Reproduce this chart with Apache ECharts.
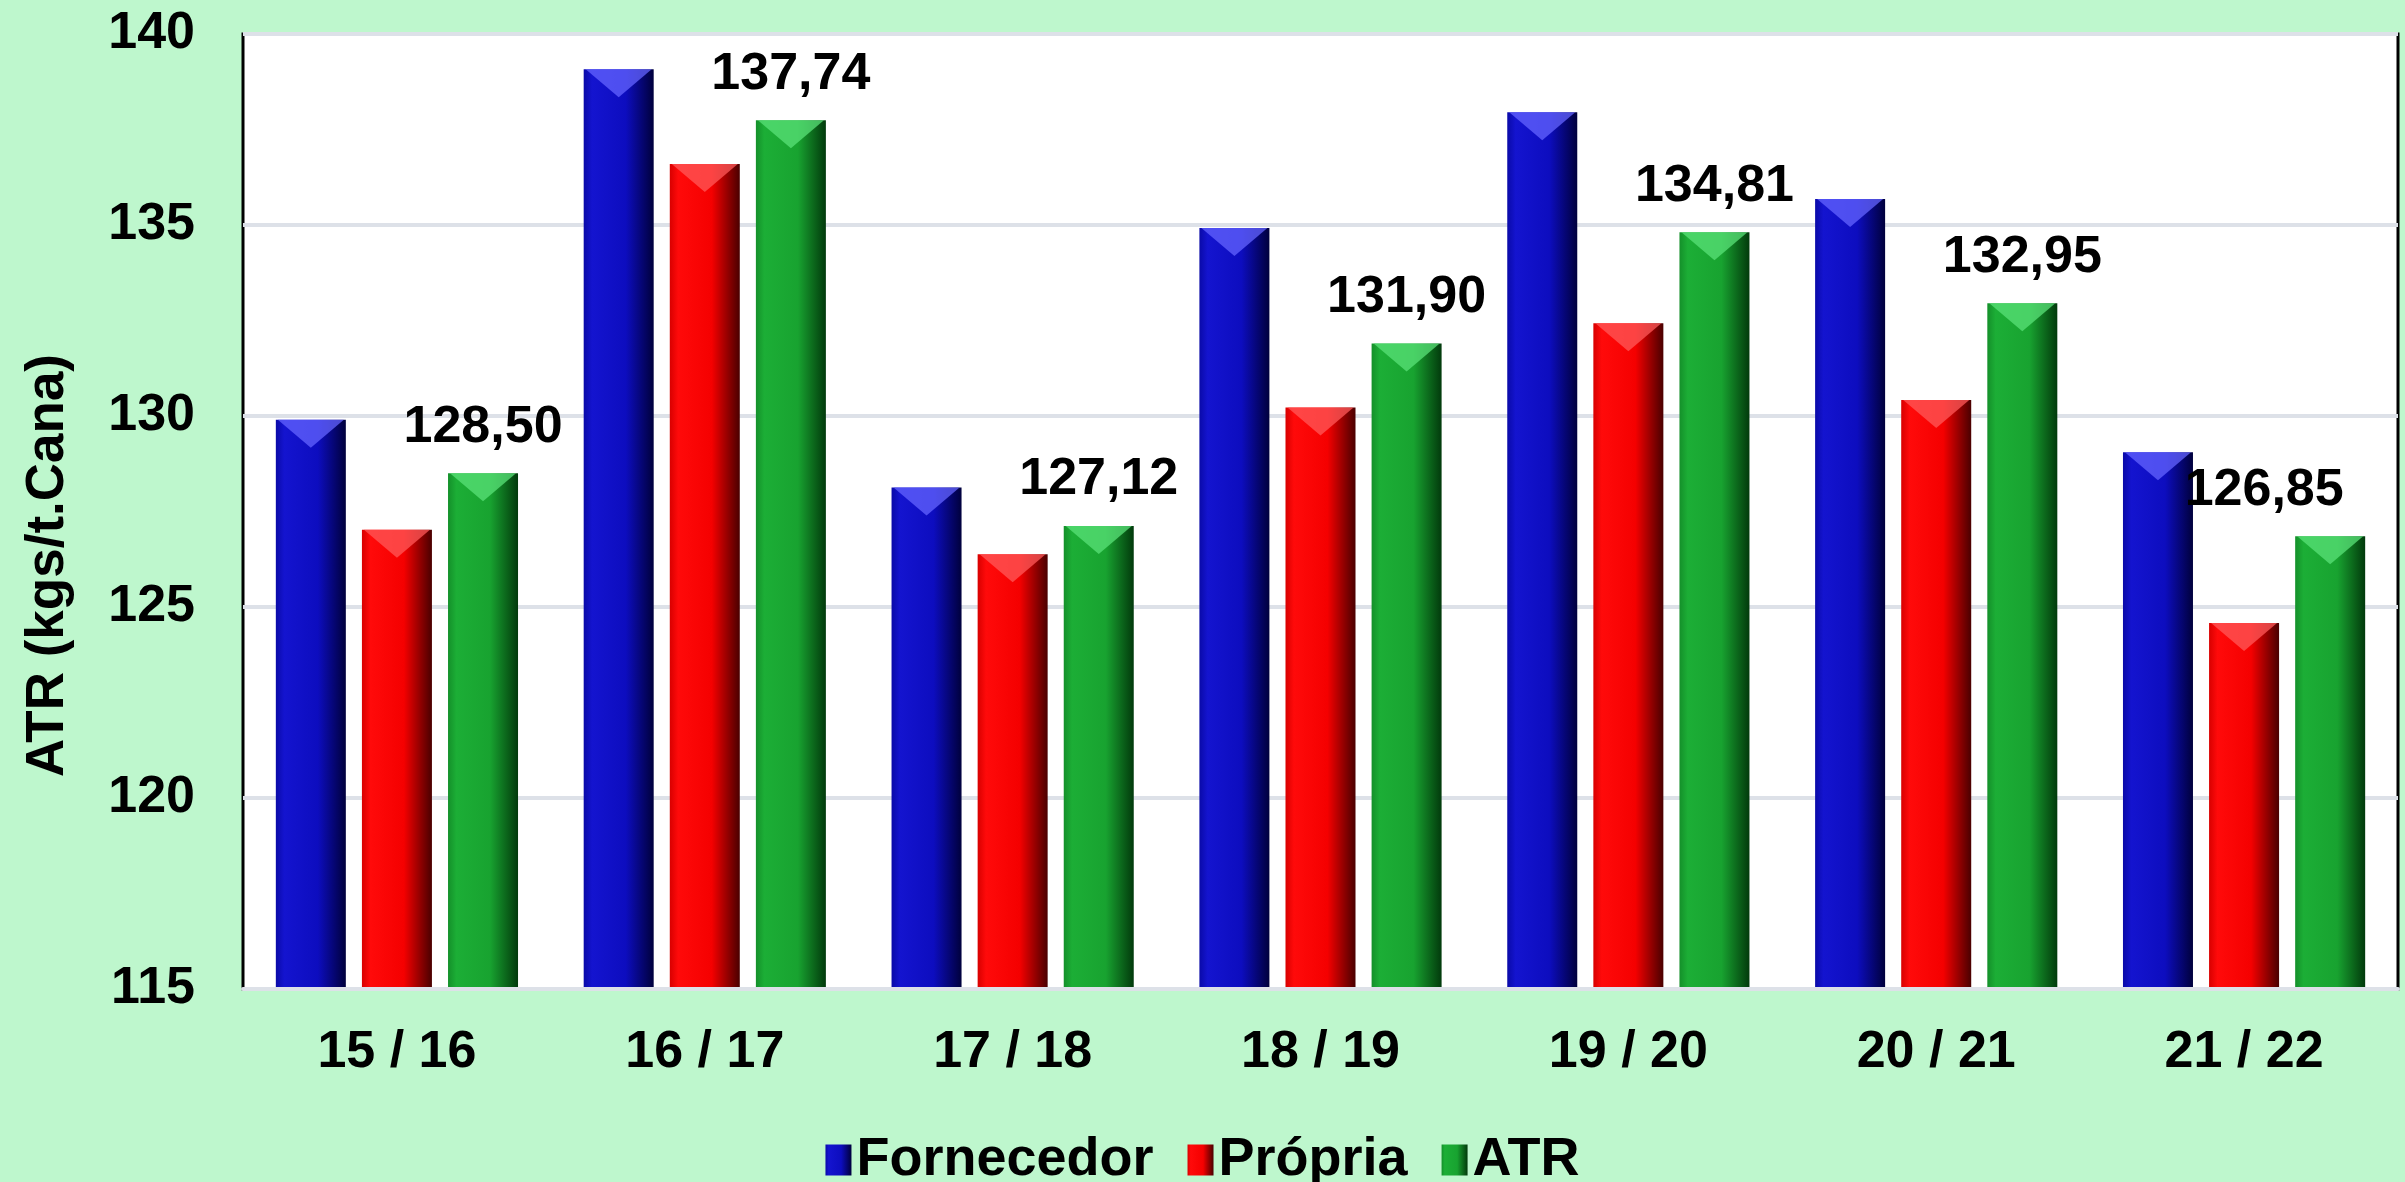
<!DOCTYPE html>
<html>
<head>
    <meta charset="utf-8">
    <script src="https://cdn.jsdelivr.net/npm/echarts@6/dist/echarts.min.js"></script>
    <style>
        html, body { margin: 0; padding: 0; background: #BEF7CD; }
    </style>
</head>
<body>
    <div id="main" style="width: 2405px;height:1182px;"></div>
    <script type="text/javascript">
        var myChart = echarts.init(document.getElementById('main'));

        // dados
        var safras = ['15 / 16', '16 / 17', '17 / 18', '18 / 19', '19 / 20', '20 / 21', '21 / 22'];
        var fornecedor = [129.9, 139.08, 128.13, 134.92, 137.95, 135.68, 129.05];
        var propria = [127.02, 136.6, 126.38, 130.22, 132.43, 130.42, 124.58];
        var atr = [128.50, 137.74, 127.12, 131.90, 134.81, 132.95, 126.85];
        var yTicks = [115, 120, 125, 130, 135, 140];

        var fonte = 'Liberation Sans, Arial, sans-serif';
        var barW = 70;
        var gap = '23%';
        var catGap = '22%';

        // gradiente horizontal para dar efeito 3D
        function grad(c0, c1, c2, c3) {
            return new echarts.graphic.LinearGradient(0, 0, 1, 0, [
                {offset: 0, color: c0},
                {offset: 0.12, color: c1},
                {offset: 0.6, color: c2},
                {offset: 1, color: c3}
            ]);
        }

        var cores = {
            azul: grad('#0a0aa8', '#1414cf', '#0d0dbf', '#00003c'),
            vermelho: grad('#d80000', '#ff0a0a', '#f50000', '#4a0000'),
            verde: grad('#14902a', '#1cae36', '#18a330', '#023a0c')
        };

        // triângulo claro no topo da barra
        function bevelTopo(data, cor) {
            return {
                type: 'pictorialBar',
                data: data,
                symbol: 'path://M0,0 L10,0 L5,4 Z',
                symbolPosition: 'end',
                symbolSize: [barW - 4, 28],
                symbolOffset: [0, 0],
                barWidth: barW,
                barGap: gap,
                barCategoryGap: catGap,
                itemStyle: { color: cor },
                silent: true,
                z: 5
            };
        }
        // triângulo escuro na base (eixo x secundário para layout separado)
        function bevelBase(data, cor) {
            return {
                type: 'pictorialBar',
                xAxisIndex: 1,
                data: data,
                symbol: 'path://M0,4 L10,4 L5,0 Z',
                symbolPosition: 'start',
                symbolSize: [barW - 4, 24],
                symbolOffset: [0, 0],
                barWidth: barW,
                barGap: gap,
                barCategoryGap: catGap,
                itemStyle: { color: cor },
                silent: true,
                z: 5
            };
        }

        // último rótulo deslocado para ficar dentro do gráfico
        var atrData = atr.map(function (v, i) {
            if (i === atr.length - 1) {
                return { value: v, label: { offset: [-66, 0] } };
            }
            return v;
        });

        var option = {
            backgroundColor: '#BEF7CD',
            textStyle: { fontFamily: fonte },
            grid: {
                left: 243,
                right: 7,
                top: 34,
                bottom: 193,
                show: true,
                backgroundColor: '#ffffff',
                borderColor: '#000000',
                borderWidth: 3
            },
            legend: {
                left: 'center',
                top: 1128,
                itemWidth: 26,
                itemHeight: 31,
                itemGap: 34,
                icon: 'rect',
                textStyle: { fontSize: 54, fontWeight: 'bold', color: '#000', fontFamily: fonte },
                data: ['Fornecedor', 'Própria', 'ATR']
            },
            xAxis: [
                {
                    type: 'category',
                    data: safras,
                    axisTick: { show: false },
                    axisLine: { show: true, lineStyle: { color: '#dde1e8', width: 4 } },
                    axisLabel: { fontSize: 52, fontWeight: 'bold', color: '#000', margin: 38 },
                    z: 10
                },
                {
                    type: 'category',
                    data: safras,
                    show: false
                }
            ],
            yAxis: {
                type: 'value',
                min: yTicks[0],
                max: yTicks[yTicks.length - 1],
                interval: 5,
                name: 'ATR (kgs/t.Cana)',
                nameLocation: 'middle',
                nameGap: 168,
                nameTextStyle: { fontSize: 53, fontWeight: 'bold', color: '#000', padding: [0, 108, 0, 0] },
                axisLine: { show: false },
                axisTick: { show: false },
                axisLabel: { fontSize: 52, fontWeight: 'bold', color: '#000', margin: 48 },
                splitLine: { lineStyle: { color: '#dde1e8', width: 4 } }
            },
            series: [
                {
                    name: 'Fornecedor', type: 'bar', data: fornecedor,
                    barWidth: barW, barGap: gap, barCategoryGap: catGap,
                    itemStyle: { color: cores.azul }
                },
                {
                    name: 'Própria', type: 'bar', data: propria,
                    barWidth: barW, barGap: gap,
                    itemStyle: { color: cores.vermelho }
                },
                {
                    name: 'ATR', type: 'bar', data: atrData,
                    barWidth: barW, barGap: gap,
                    itemStyle: { color: cores.verde },
                    label: {
                        show: true,
                        position: 'top',
                        distance: 20,
                        fontSize: 52,
                        fontWeight: 'bold',
                        color: '#000',
                        formatter: function (p) {
                            return p.value.toFixed(2).replace('.', ',');
                        }
                    }
                },
                bevelTopo(fornecedor, 'rgba(100,100,255,0.75)'),
                bevelTopo(propria, 'rgba(255,90,90,0.75)'),
                bevelTopo(atr, 'rgba(90,225,120,0.75)'),
                bevelBase(fornecedor, 'rgba(0,0,60,0.4)'),
                bevelBase(propria, 'rgba(80,0,0,0.4)'),
                bevelBase(atr, 'rgba(0,40,10,0.4)')
            ]
        };

        myChart.setOption(option);
    </script>
</body>
</html>
